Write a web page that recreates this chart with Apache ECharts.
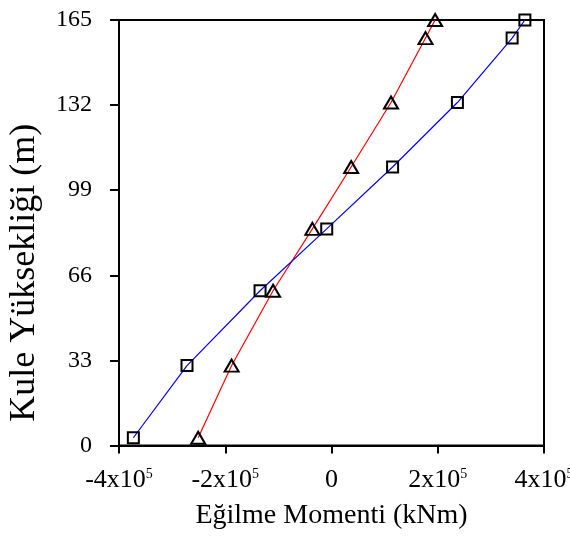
<!DOCTYPE html>
<html style="height: 100%">
<head>
  <meta charset="utf-8">
  <title>Eğilme Momenti</title>
  <script src="https://cdn.jsdelivr.net/npm/echarts@6.0.0/dist/echarts.min.js"></script>
</head>
<body style="margin:0;height:100%">
  <div id="main" style="width:570px;height:554px"></div>
  <script>
    // tower heights (m), shared by both curves
    var heights = [3, 31, 60, 84, 108, 133, 158, 165];
    // bending moment, kNm
    var momentTriangle = [-251000, -188000, -110000, -36000, 37000, 112000, 177000, 195000];
    var momentSquare = [-373000, -272000, -134500, -9000, 115000, 237000, 340000, 364000];
    var yTicks = [0, 33, 66, 99, 132, 165];

    function pairs(xs) {
      return xs.map(function (x, i) { return [x, heights[i]]; });
    }

    var serif = 'Liberation Serif';
    var chart = echarts.init(document.getElementById('main'));

    chart.setOption({
      animation: false,
      grid: {
        left: 119, right: 26, top: 20, bottom: 108.5,
        outerBoundsMode: 'none',
        containLabel: false,
        show: true, borderColor: '#000', borderWidth: 2
      },
      xAxis: {
        type: 'value',
        min: -400000, max: 400000, interval: 200000,
        splitLine: { show: false },
        axisLine: { onZero: false, lineStyle: { color: '#000', width: 2 } },
        axisTick: { length: 8, lineStyle: { color: '#000', width: 2 } },
        axisLabel: {
          margin: 22,
          color: '#000',
          fontFamily: serif,
          fontSize: 26,
          lineHeight: 26,
          hideOverlap: false,
          formatter: function (v) {
            if (v === 0) return '0';
            return (v / 100000) + 'x10{sup|5}';
          },
          rich: {
            sup: { fontSize: 14, fontFamily: serif, color: '#000', verticalAlign: 'top', padding: [0, 0, 18, 0] }
          }
        },
        name: 'Eğilme Momenti (kNm)',
        nameLocation: 'middle',
        nameGap: 56,
        nameTextStyle: { color: '#000', fontFamily: serif, fontSize: 28 }
      },
      yAxis: {
        type: 'value',
        min: 0, max: 165, interval: 33,
        splitLine: { show: false },
        axisLine: { onZero: false, lineStyle: { color: '#000', width: 2 } },
        axisTick: { length: 9, lineStyle: { color: '#000', width: 2 } },
        axisLabel: {
          margin: 27,
          color: '#000',
          fontFamily: serif,
          fontSize: 24,
          formatter: function (v) { return yTicks.indexOf(v) >= 0 ? String(v) : ''; }
        },
        name: 'Kule Yüksekliği (m)',
        nameLocation: 'middle',
        nameGap: 76,
        nameTextStyle: { color: '#000', fontFamily: serif, fontSize: 36, padding: [0, 80, 0, 0] }
      },
      series: [
        {
          type: 'line',
          data: pairs(momentTriangle),
          symbol: 'triangle',
          symbolSize: [14, 12],
          lineStyle: { color: '#ff0000', width: 1.2 },
          itemStyle: { color: 'rgba(0,0,0,0)', borderColor: '#000', borderWidth: 2 }
        },
        {
          type: 'line',
          data: pairs(momentSquare),
          symbol: 'rect',
          symbolSize: 11,
          lineStyle: { color: '#0000ff', width: 1.2 },
          itemStyle: { color: 'rgba(0,0,0,0)', borderColor: '#000', borderWidth: 2 }
        }
      ]
    });
  </script>
</body>
</html>
